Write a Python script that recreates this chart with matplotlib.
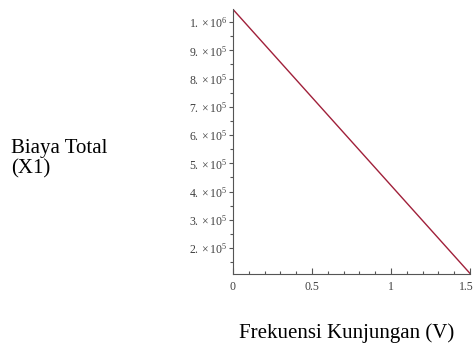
import matplotlib
matplotlib.use("Agg")
import matplotlib.pyplot as plt
import matplotlib.transforms as mtransforms
from matplotlib.ticker import MultipleLocator, FixedLocator

plt.rcParams['font.family'] = ['Liberation Serif', 'DejaVu Serif']
plt.rcParams['mathtext.fontset'] = 'custom'
plt.rcParams['mathtext.rm'] = 'Liberation Serif'
plt.rcParams['mathtext.it'] = 'Liberation Serif:italic'

# line end points
freq = [0.0, 1.5]
cost = [1045000, 110000]

y_ticks = [2e5, 3e5, 4e5, 5e5, 6e5, 7e5, 8e5, 9e5, 1e6]
y_labels = [r'$2.\times10^{5}$', r'$3.\times10^{5}$', r'$4.\times10^{5}$',
            r'$5.\times10^{5}$', r'$6.\times10^{5}$', r'$7.\times10^{5}$',
            r'$8.\times10^{5}$', r'$9.\times10^{5}$', r'$1.\times10^{6}$']
x_ticks = [0, 0.5, 1, 1.5]
x_labels = ['0', '0.5', '1', '1.5']

fig = plt.figure(figsize=(4.75, 3.47), dpi=100)
ax = fig.add_axes([0.4905, 0.2095, 0.499, 0.7635])
ax.plot(freq, cost, color='#a0203a', linewidth=1.0)

ax.set_xlim(0, 1.5)
ax.set_ylim(107000, 1045000)
ax.spines['top'].set_visible(False)
ax.spines['right'].set_visible(False)
for s in ('left', 'bottom'):
    ax.spines[s].set_color('#555555')
    ax.spines[s].set_linewidth(0.8)

ax.xaxis.set_major_locator(FixedLocator(x_ticks))
ax.set_xticklabels(x_labels)
ax.xaxis.set_minor_locator(MultipleLocator(0.1))
ax.yaxis.set_major_locator(FixedLocator(y_ticks))
ax.set_yticklabels(y_labels)
ax.yaxis.set_minor_locator(FixedLocator([1.5e5, 2.5e5, 3.5e5, 4.5e5, 5.5e5,
                                         6.5e5, 7.5e5, 8.5e5, 9.5e5]))

ax.tick_params(axis='x', which='both', direction='in', colors='#555555',
               labelcolor='#404040', labelsize=8.5, pad=5, width=0.8)
ax.tick_params(axis='x', which='major', length=4)
ax.tick_params(axis='x', which='minor', length=2.5)
ax.tick_params(axis='y', which='both', direction='out', colors='#555555',
               labelcolor='#404040', labelsize=8.5, pad=1, width=0.8)
ax.tick_params(axis='y', which='major', length=3)
ax.tick_params(axis='y', which='minor', length=2)

# keep the last x label inside the figure
last = ax.get_xticklabels()[-1]
last.set_transform(last.get_transform() +
                   mtransforms.ScaledTranslation(-4 / 100, 0, fig.dpi_scale_trans))

fig.text(11 / 475, 1 - 159 / 347, 'Biaya Total\n(X1)', fontsize=15,
         ha='left', va='center', linespacing=1.12)
fig.text(347 / 475, 1 - 333 / 347, 'Frekuensi Kunjungan (V)', fontsize=15,
         ha='center', va='center')

fig.savefig('out.png', dpi=100)
